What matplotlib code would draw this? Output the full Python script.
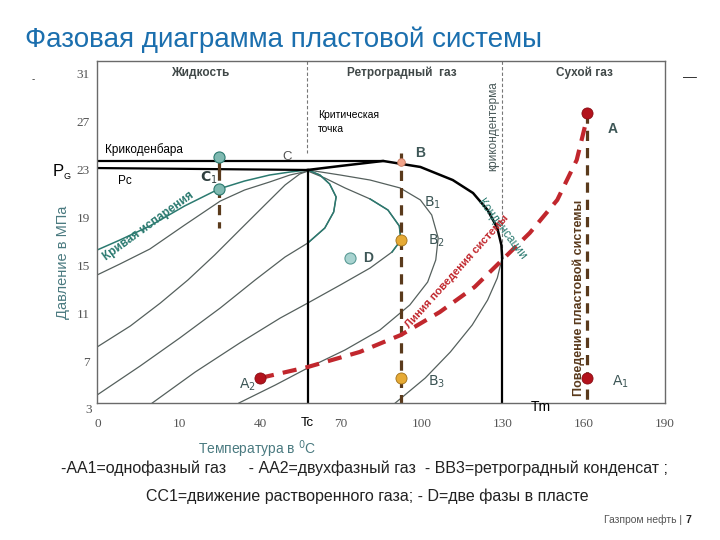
import matplotlib
matplotlib.use('Agg')
import matplotlib.pyplot as plt

plt.rcParams['font.family'] = ['Liberation Sans', 'DejaVu Sans']
NARROW = ['Liberation Sans Narrow', 'Liberation Sans', 'DejaVu Sans']
SERIF = ['Liberation Serif', 'DejaVu Serif']

# ---- data (x in tick units of the temperature scale, y in MPa) ----
temp_tick_pos = [0, 1, 2, 3, 4, 5, 6, 7]
temp_tick_labels = ['0', '10', '40', '70', '100', '130', '160', '190']
p_ticks = [31, 27, 23, 19, 15, 11, 7]
p_tick_low = 3

tc_x = 2.59
tm_x = 4.99
p_crit = 22.92
p_cricondenbar = 23.67

# bubble-point curve (Кривая испарения)
bubble_x = [-0.01, 0.27, 0.64, 1.07, 1.49, 1.81, 2.12, 2.37, 2.59]
bubble_p = [16.25, 17.08, 18.25, 19.92, 21.33, 22.0, 22.5, 22.75, 22.92]

# quality lines on the left of the critical point
q2_x = [-0.01, 0.27, 0.64, 1.07, 1.51, 1.81, 2.12, 2.37, 2.59]
q2_p = [14.17, 15.08, 16.33, 18.33, 20.33, 21.25, 21.92, 22.5, 22.83]
q3_x = [-0.01, 0.40, 0.77, 1.11, 1.44, 1.75, 2.06, 2.31, 2.49, 2.59]
q3_p = [8.17, 9.92, 11.83, 13.75, 15.83, 17.92, 20.0, 21.67, 22.58, 22.83]
q4_x = [-0.01, 0.52, 1.01, 1.51, 1.94, 2.31, 2.59, 2.80, 2.91, 2.94, 2.86, 2.74, 2.59]
q4_p = [4.17, 6.58, 8.92, 11.42, 13.75, 15.67, 16.83, 18.08, 19.42, 20.67, 21.75, 22.5, 22.92]

# quality lines in the retrograde region
q5_x = [0.67, 1.20, 1.75, 2.25, 2.59, 2.99, 3.36, 3.63, 3.74, 3.72, 3.58, 3.36, 3.05, 2.80, 2.59]
q5_p = [3.5, 6.08, 8.5, 10.58, 11.83, 13.33, 14.75, 16.08, 17.08, 18.25, 19.58, 20.5, 21.42, 22.25, 22.83]
q6_x = [1.74, 2.19, 2.59, 3.05, 3.48, 3.85, 4.07, 4.17, 4.20, 4.12, 3.98, 3.73, 3.36, 2.99, 2.59]
q6_p = [3.5, 5.0, 6.42, 7.92, 9.58, 11.67, 13.58, 15.42, 17.25, 19.17, 20.42, 21.42, 22.08, 22.5, 22.92]
q7_x = [3.67, 4.04, 4.35, 4.62, 4.81, 4.93, 4.99]
q7_p = [3.5, 5.58, 7.75, 10.0, 12.08, 13.92, 15.58]

# dew-point envelope (Кривая конденсации)
dew_x = [2.59, 2.99, 3.52, 3.98, 4.38, 4.63, 4.81, 4.93, 4.98, 4.99]
dew_p = [22.92, 23.25, 23.67, 23.17, 22.08, 21.0, 19.58, 18.08, 16.67, 15.58]

# system behaviour line (Линия поведения системы)
path_x = [2.0, 2.59, 3.23, 3.74, 4.22, 4.65, 4.99, 5.33, 5.67, 5.91, 6.04]
path_p = [5.58, 6.5, 7.75, 9.17, 11.08, 13.17, 15.42, 17.67, 20.42, 23.75, 27.33]

# process points
pt_A = (6.04, 27.67)
pt_A1 = (6.04, 5.58)
pt_A2 = (2.0, 5.58)
pt_B = (3.74, 23.58)
pt_B2 = (3.74, 17.08)
pt_B3 = (3.74, 5.58)
pt_C = (1.49, 24.0)
pt_C1 = (1.49, 21.33)
pt_D = (3.11, 15.58)

GRAY = '#55605d'
TEAL = '#2b7a70'
BROWN = '#5a3a1c'
RED = '#c1272d'
LBL = '#3d5656'

W, H = 720, 540
fig = plt.figure(figsize=(7.2, 5.4), dpi=100)


def fx(px):
    return px / W


def fy(py):
    return 1 - py / H


ax = fig.add_axes([fx(97), fy(403), (665 - 97) / W, (403 - 61) / H])
ax.set_xlim(-0.012, 7.0)
ax.set_ylim(3.5, 32.0)
for s in ax.spines.values():
    s.set_color('#6a6a6a')
    s.set_linewidth(1.0)

ax.set_xticks(temp_tick_pos)
ax.set_xticklabels(temp_tick_labels, family=SERIF, color='#555555', fontsize=9.5)
ax.set_yticks(p_ticks)
ax.set_yticklabels([str(v) for v in p_ticks], family=SERIF, color='#555555', fontsize=9.5)
ax.tick_params(axis='x', length=0, pad=11)
ax.tick_params(axis='y', length=0, pad=5)
ax.text(-0.07, p_tick_low - 0.05, str(p_tick_low), transform=ax.transData, ha='right',
        va='center', family=SERIF, color='#555555', fontsize=9.5, clip_on=False)

# region separators
ax.plot([tc_x - 0.01, tc_x - 0.01], [32.0, 24.33], color='#777777', lw=0.8, ls=(0, (3, 2)))
ax.plot([tm_x, tm_x], [32.0, 15.6], color='#777777', lw=0.8, ls=(0, (3, 2)))

# quality lines
for xs, ps in [(q2_x, q2_p), (q3_x, q3_p), (q4_x, q4_p), (q5_x, q5_p), (q6_x, q6_p), (q7_x, q7_p)]:
    ax.plot(xs, ps, color=GRAY, lw=0.9)
ax.plot(q4_x[6:], q4_p[6:], color=TEAL, lw=1.1)
ax.plot(q5_x[7:12], q5_p[7:12], color=TEAL, lw=1.1)
ax.plot(bubble_x, bubble_p, color=TEAL, lw=1.1)

# envelope, Tc / Tm verticals, pressures
ax.plot(dew_x, dew_p, color='black', lw=1.8)
ax.plot([tc_x, tc_x], [p_crit, 3.5], color='black', lw=1.6)
ax.plot([tm_x, tm_x], [dew_p[-1], 3.5], color='black', lw=1.6)
ax.plot([-0.012, dew_x[2]], [p_cricondenbar, p_cricondenbar], color='black', lw=1.6)
ax.plot([-0.012, tc_x], [23.08, p_crit], color='black', lw=1.6)

# process paths
ax.plot([pt_C[0], pt_C[0]], [pt_C[1] - 0.1, 22.9], color=BROWN, lw=2.3)
ax.plot([pt_C[0], pt_C1[0]], [22.9, 18.1], color=BROWN, lw=2.3, dashes=(3.2, 2.2))
ax.plot([pt_B[0], pt_B[0]], [24.33, 3.5], color=BROWN, lw=2.3, dashes=(3.2, 2.2))
ax.plot([pt_A[0], pt_A[0]], [pt_A[1], 3.5], color=BROWN, lw=2.3, dashes=(3.2, 2.2))
ax.plot(path_x, path_p, color=RED, lw=3.0, dashes=(3.4, 2.2))

# points
ax.plot(*pt_C, marker='o', ms=8, mfc='#7fb9b1', mec=TEAL, mew=0.8)
ax.plot(*pt_C1, marker='o', ms=8, mfc='#7fb9b1', mec=TEAL, mew=0.8)
ax.plot(*pt_D, marker='o', ms=8, mfc='#a8d3d0', mec='#5a9a95', mew=0.8)
ax.plot(*pt_B, marker='o', ms=5.5, mfc='#f2a48a', mec='#c87a60', mew=0.6)
ax.plot(*pt_B2, marker='o', ms=8, mfc='#e6aa35', mec='#a0701a', mew=0.6)
ax.plot(*pt_B3, marker='o', ms=8, mfc='#e6aa35', mec='#a0701a', mew=0.6)
for p in (pt_A, pt_A1, pt_A2):
    ax.plot(*p, marker='o', ms=8, mfc='#b3121c', mec='#8a0c14', mew=0.6)

# labels inside the chart
ax.text(1.26, 31.0, 'Жидкость', ha='center', va='center', family=NARROW, fontsize=8.5,
        fontweight='bold', color='#404848')
ax.text(3.75, 31.0, 'Ретроградный  газ', ha='center', va='center', family=NARROW, fontsize=8.5,
        fontweight='bold', color='#404848')
ax.text(6.0, 31.0, 'Сухой газ', ha='center', va='center', family=NARROW, fontsize=8.5,
        fontweight='bold', color='#404848')
ax.text(4.88, 26.6, 'крикондентерма', rotation=90, ha='center', va='center', fontsize=8.5,
        color='#4a5a5a')
ax.text(2.72, 26.9, 'Критическая\nточка', ha='left', va='center', fontsize=7.5, linespacing=1.5)
ax.text(0.09, 24.6, 'Крикоденбара', ha='left', va='center', fontsize=8.5)
ax.text(0.25, 22.0, 'Pc', ha='left', va='center', fontsize=8.5)
ax.text(2.33, 24.0, 'C', ha='center', va='center', fontsize=9.5, color='#555555')
ax.text(1.37, 22.3, r'$\mathbf{C}_{1}$', ha='center', va='center', fontsize=10, color='#2f3f3f')
ax.text(0.62, 18.25, 'Кривая испарения', rotation=36, ha='center', va='center', fontsize=8.5,
        color=TEAL, fontweight='bold')
ax.text(4.99, 18.0, 'Конденсации', rotation=-53, ha='center', va='center', fontsize=8.5,
        color=TEAL)
ax.text(4.43, 14.5, 'Линия поведения системы', rotation=48, ha='center', va='center',
        fontsize=8, color=RED, fontweight='bold')
ax.text(5.93, 12.3, 'Поведение пластовой системы', rotation=90, ha='center', va='center',
        fontsize=9, color=BROWN, fontweight='bold')

lab = dict(ha='center', va='center', fontsize=10, color=LBL, fontweight='bold', family=NARROW)
ax.text(3.98, 24.3, 'B', **lab)
ax.text(4.13, 20.2, r'$\mathsf{B}_{1}$', **lab)
ax.text(4.18, 17.0, r'$\mathsf{B}_{2}$', **lab)
ax.text(4.18, 5.3, r'$\mathsf{B}_{3}$', **lab)
ax.text(3.33, 15.6, 'D', **lab)
ax.text(6.35, 26.3, 'A', **lab)
ax.text(6.45, 5.3, r'$\mathsf{A}_{1}$', **lab)
ax.text(1.85, 5.0, r'$\mathsf{A}_{2}$', **lab)

# labels around the chart
ax.text(tc_x, -0.058, 'Tc', transform=ax.get_xaxis_transform(), ha='center', va='center',
        fontsize=9.5)
fig.text(fx(541), fy(407), 'Tm', ha='center', va='center', fontsize=10)
fig.text(fx(58), fy(172), 'P', ha='center', va='center', fontsize=12)
fig.text(fx(67), fy(177), 'G', ha='center', va='center', fontsize=6.5)
fig.text(fx(63), fy(262), 'Давление в МПа', rotation=90, ha='center', va='center',
         fontsize=10.5, color='#4a7a80')
fig.text(fx(257), fy(449), 'Температура в $^{0}$C', ha='center', va='center', family=NARROW,
         fontsize=10, color='#4a7a80')

fig.text(fx(25), fy(40), 'Фазовая диаграмма пластовой системы', ha='left', va='center',
         fontsize=20, color='#1b6fae', family=NARROW)
fig.text(fx(33), fy(79), '-', ha='center', va='center', fontsize=7, color='#333333')
fig.text(fx(690), fy(77), '—', ha='center', va='center', fontsize=10, color='#333333')

fig.text(fx(364), fy(468),
         '-АА1=однофазный газ     - АА2=двухфазный газ  - ВВ3=ретроградный конденсат ;',
         ha='center', va='center', fontsize=11.5, color='#222222')
fig.text(fx(367), fy(496), 'СС1=движение растворенного газа; - D=две фазы в пласте',
         ha='center', va='center', fontsize=11.5, color='#222222')
fig.text(fx(685), fy(520), 'Газпром нефть | ', ha='right', va='center', fontsize=7.5,
         color='#555555', family=NARROW)
fig.text(fx(686), fy(520), '7', ha='left', va='center', fontsize=7.5, color='#222222',
         fontweight='bold', family=NARROW)

fig.savefig('out.png', dpi=100)
